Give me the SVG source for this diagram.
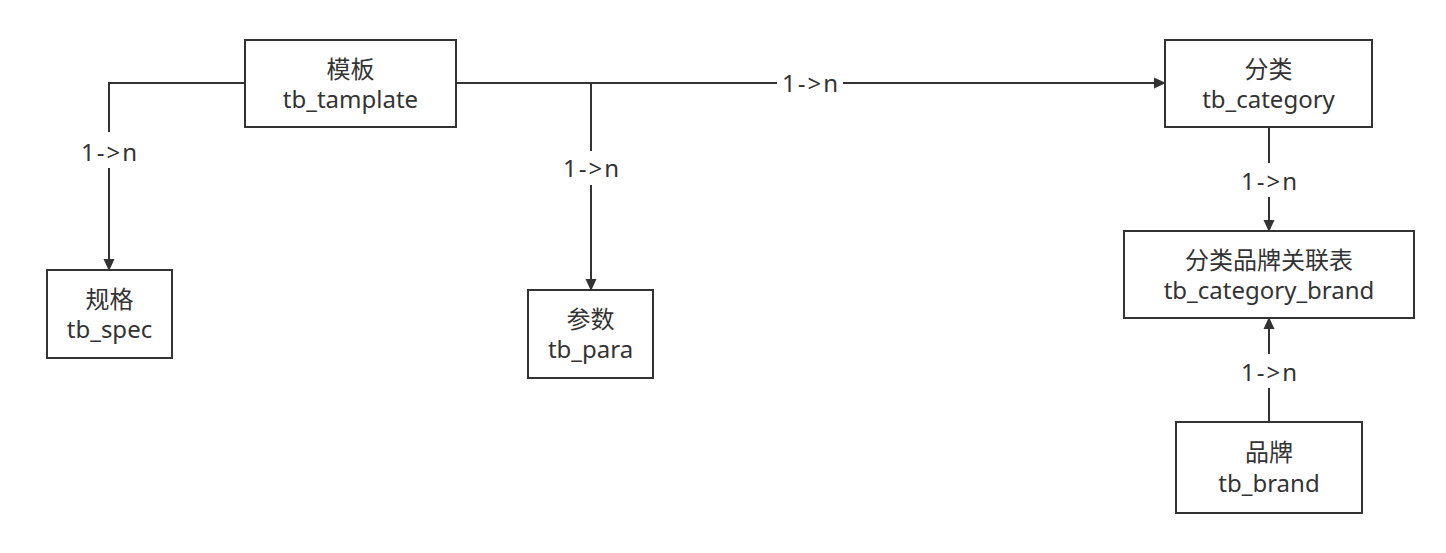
<svg xmlns="http://www.w3.org/2000/svg" width="1446" height="553" viewBox="0 0 1446 553">
<style>
.box{fill:#fff;stroke:#333;stroke-width:2}
.t{font-family:"Noto Sans","Noto Sans CJK SC",sans-serif;font-size:24px;fill:#333;text-anchor:middle}
.lbl{font-family:"Noto Sans","Noto Sans CJK SC",sans-serif;font-size:24px;fill:#333;text-anchor:middle;letter-spacing:2px}
.e{fill:none;stroke:#333;stroke-width:2}
</style>
<defs>
<marker id="arr" markerUnits="userSpaceOnUse" markerWidth="12" markerHeight="13" viewBox="0 0 12 13" refX="11" refY="6.5" orient="auto">
<path d="M0,1 L12,6.5 L0,12 Z" fill="#333"/>
</marker>
</defs>
<rect width="1446" height="553" fill="#fff"/>
<g id="connectors">
<path class="e" d="M245,83 H109 V132"/>
<path class="e" d="M109,168 V270" marker-end="url(#arr)"/>
<path class="e" d="M456,83 H777"/>
<path class="e" d="M843,83 H1165" marker-end="url(#arr)"/>
<path class="e" d="M591,83 V151"/>
<path class="e" d="M591,185 V290" marker-end="url(#arr)"/>
<path class="e" d="M1269,127 V163"/>
<path class="e" d="M1269,197 V231" marker-end="url(#arr)"/>
<path class="e" d="M1269,422 V388"/>
<path class="e" d="M1269,354 V318" marker-end="url(#arr)"/>
<text class="lbl" x="110" y="161">1-&gt;n</text>
<text class="lbl" x="592" y="177">1-&gt;n</text>
<text class="lbl" x="811" y="92">1-&gt;n</text>
<text class="lbl" x="1270" y="190">1-&gt;n</text>
<text class="lbl" x="1270" y="381">1-&gt;n</text>
</g>
<g id="template">
<rect class="box" x="245" y="40" width="211" height="87"/>
<text class="t" x="350.5" y="78">模板</text>
<text class="t" x="350.5" y="108">tb_tamplate</text>
</g>
<g id="spec">
<rect class="box" x="47" y="270" width="125" height="88"/>
<text class="t" x="109.5" y="308">规格</text>
<text class="t" x="109.5" y="338">tb_spec</text>
</g>
<g id="para">
<rect class="box" x="528" y="290" width="125" height="88"/>
<text class="t" x="590.5" y="328">参数</text>
<text class="t" x="590.5" y="358">tb_para</text>
</g>
<g id="category">
<rect class="box" x="1165" y="40" width="207" height="87"/>
<text class="t" x="1268.5" y="78">分类</text>
<text class="t" x="1268.5" y="108">tb_category</text>
</g>
<g id="category_brand">
<rect class="box" x="1124" y="231" width="290" height="87"/>
<text class="t" x="1269" y="269">分类品牌关联表</text>
<text class="t" x="1269" y="299">tb_category_brand</text>
</g>
<g id="brand">
<rect class="box" x="1176" y="422" width="186" height="91"/>
<text class="t" x="1269" y="461">品牌</text>
<text class="t" x="1269" y="492">tb_brand</text>
</g>
</svg>
